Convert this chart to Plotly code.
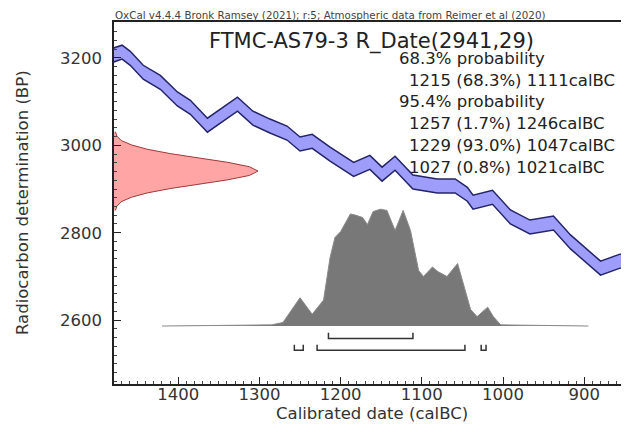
import plotly.graph_objects as go

# calibration curve (IntCal20): calBC year, BP centre
curve_year = [1482, 1469, 1459, 1443, 1422, 1401, 1385, 1364, 1327, 1308, 1287, 1266,
              1250, 1235, 1213, 1184, 1164, 1149, 1133, 1111, 1081, 1059, 1044, 1037,
              1013, 991, 967, 938, 917, 880, 856, 840]
curve_bp = [3205, 3213, 3199, 3167, 3144, 3106, 3087, 3046, 3094, 3062, 3044, 3028,
            3003, 3009, 2980, 2945, 2961, 2934, 2959, 2916, 2907, 2907, 2888, 2870,
            2881, 2836, 2813, 2822, 2779, 2719, 2735, 2742]
curve_sigma = 16

# R_Date(2941,29) on the y axis: BP, relative height
rdate_bp = [2851, 2861, 2871, 2881, 2891, 2901, 2911, 2921, 2931, 2941,
            2951, 2961, 2971, 2981, 2991, 3001, 3011, 3021, 3031]
rdate_h = [0.01, 0.02, 0.05, 0.12, 0.23, 0.39, 0.59, 0.79, 0.94, 1.0,
           0.94, 0.79, 0.59, 0.39, 0.23, 0.12, 0.05, 0.02, 0.01]

# calibrated distribution: calBC year, relative probability
post_year = [1420, 1300, 1285, 1271, 1262, 1250, 1235, 1221, 1213, 1207, 1200, 1188,
             1182, 1173, 1167, 1160, 1151, 1143, 1133, 1123, 1114, 1104, 1098, 1087,
             1080, 1069, 1056, 1049, 1040, 1032, 1019, 1012, 1003, 895]
post_p = [0.0, 0.005, 0.01, 0.03, 0.12, 0.24, 0.10, 0.22, 0.58, 0.75, 0.80, 0.95,
          0.94, 0.92, 0.86, 0.97, 0.99, 0.98, 0.81, 0.98, 0.81, 0.47, 0.42, 0.50,
          0.46, 0.42, 0.53, 0.36, 0.14, 0.08, 0.16, 0.08, 0.01, 0.0]

# ranges (from, to) calBC
range68 = [(1215, 1111)]
range95 = [(1257, 1246), (1229, 1047), (1027, 1021)]

text_lines = ["68.3% probability",
              "1215 (68.3%) 1111calBC",
              "95.4% probability",
              "1257 (1.7%) 1246calBC",
              "1229 (93.0%) 1047calBC",
              "1027 (0.8%) 1021calBC"]
indent = [False, True, False, True, True, True]

FONT = "DejaVu Sans"
OFF = 8  # page body margin
W, H = 629 - OFF, 438 - OFF
L, R, T, B = 114 - OFF, 0, 22 - OFF, 54
pw, ph = W - L - R, H - T - B

fig = go.Figure()

upper = [v + curve_sigma for v in curve_bp]
lower = [v - curve_sigma for v in curve_bp]
fig.add_trace(go.Scatter(x=curve_year, y=upper, mode="lines",
                         line=dict(color="#24246a", width=1.5), hoverinfo="skip"))
fig.add_trace(go.Scatter(x=curve_year, y=lower, mode="lines", fill="tonexty",
                         fillcolor="rgb(158,158,250)",
                         line=dict(color="#24246a", width=1.5), hoverinfo="skip"))

fig.add_trace(go.Scatter(x=rdate_h, y=rdate_bp, xaxis="x2", yaxis="y", mode="lines",
                         fill="tozerox", fillcolor="rgb(255,165,165)",
                         line=dict(color="#a03838", width=1)))

fig.add_trace(go.Scatter(x=post_year, y=post_p, xaxis="x", yaxis="y2", mode="lines",
                         fill="tozeroy", fillcolor="#787878",
                         line=dict(color="#8a8a8a", width=1)))

def bracket(ranges, level, tick):
    for a, b in ranges:
        fig.add_trace(go.Scatter(x=[a, a, b, b], y=[level + tick, level, level, level + tick],
                                 mode="lines", line=dict(color="#333333", width=1.5)))

bracket(range68, 2558, 13)
bracket(range95, 2531, 13)

# screen pixel -> paper fraction
def py(ypx):
    return (H - B - (ypx - OFF)) / ph

def px(xpx):
    return (xpx - OFF - L) / pw

ann = []
ann.append(dict(text="OxCal v4.4.4 Bronk Ramsey (2021); r:5; Atmospheric data from Reimer et al (2020)",
                x=px(113), y=py(15), xanchor="left", yanchor="middle",
                font=dict(size=10.3, color="#444")))
ann.append(dict(text="FTMC-AS79-3 R_Date(2941,29)", x=px(371), y=py(41.5),
                xanchor="center", yanchor="middle", font=dict(size=21, color="#222")))
ys = [58.5, 80, 101.5, 123, 145, 167]
for t, ind, yy in zip(text_lines, indent, ys):
    ann.append(dict(text=t, x=px(407 if ind else 397), y=py(yy), xanchor="left",
                    yanchor="middle", font=dict(size=16.5, color="#222")))
ann.append(dict(text="Radiocarbon determination (BP)", x=px(22), y=py(203), textangle=-90,
                xanchor="center", yanchor="middle", font=dict(size=16.5, color="#333")))
ann.append(dict(text="Calibrated date (calBC)", x=px(372), y=py(413),
                xanchor="center", yanchor="middle", font=dict(size=16.5, color="#333")))
for a in ann:
    a.update(xref="paper", yref="paper", showarrow=False)

fig.update_layout(
    width=W, height=H, margin=dict(l=L, r=R, t=T, b=B),
    paper_bgcolor="white", plot_bgcolor="white", showlegend=False,
    font=dict(family=FONT, color="#333"),
    annotations=ann,
    xaxis=dict(range=[1479, 845], showgrid=False, zeroline=False, showline=True,
               linecolor="#222", linewidth=1.5, mirror=True,
               ticks="inside", ticklen=7, tickcolor="#222", dtick=100, tick0=1000,
               tickfont=dict(size=16.5, color="#333"), ticklabelstandoff=-6,
               minor=dict(dtick=10, ticks="inside", ticklen=3, tickcolor="#444")),
    yaxis=dict(range=[2454, 3282], showgrid=False, zeroline=False, showline=True,
               linecolor="#222", linewidth=1.5,
               ticks="inside", ticklen=7, tickcolor="#222", dtick=200, tick0=2600,
               tickfont=dict(size=16.5, color="#333"), ticklabelstandoff=7,
               minor=dict(dtick=20, ticks="inside", ticklen=3, tickcolor="#444")),
    xaxis2=dict(overlaying="x", range=[0, 3.576], visible=False),
    yaxis2=dict(overlaying="y", range=[-0.491, 2.576], visible=False),
)

fig.write_html("out.html")
